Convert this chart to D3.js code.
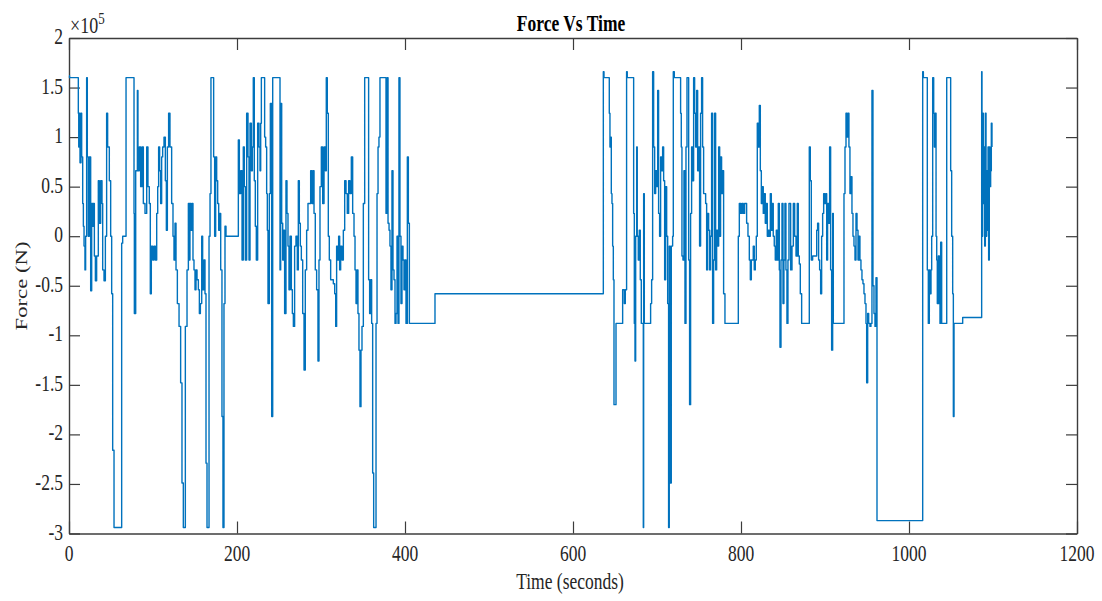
<!DOCTYPE html>
<html>
<head>
<meta charset="utf-8">
<script src="https://cdn.jsdelivr.net/npm/d3@7"></script>
<style>
  body { margin: 0; background: #fff; }
  svg { display: block; }
</style>
</head>
<body>
<svg id="chart" width="1102" height="601"></svg>
<script>
// Axis ticks
const xTicks = [0, 200, 400, 600, 800, 1000, 1200];
const xTickLabels = ["0", "200", "400", "600", "800", "1000", "1200"];
const yTicks = [-3, -2.5, -2, -1.5, -1, -0.5, 0, 0.5, 1, 1.5, 2];
const yTickLabels = ["-3", "-2.5", "-2", "-1.5", "-1", "-0.5", "0", "0.5", "1", "1.5", "2"];

// Force samples: [time (s), force (x10^5 N)], held until the next sample
const burstA = [
  [0,1.62],[0.6,1.6],[11.1,1.24],[11.6,0.9],[12.3,1.24],[13.1,0.74],[14.3,1.24],[15.1,0.8],[16.3,0.33],[17.1,0.1],
  [17.9,-0.1],[19.0,-0.34],[19.8,0.0],[21.0,1.6],[21.8,0.8],[23.0,0.0],[24.2,0.8],[25.8,-0.55],[27.0,0.33],[28.2,0.1],
  [29.0,0.33],[30.2,-0.2],[31.4,-0.45],[32.9,-0.2],[34.9,0.56],[36.1,0.13],[37.7,0.56],[39.3,0.33],[40.1,-0.34],[41.7,-0.45],
  [43.3,0.0],[44.8,1.24],[46.0,0.9],[48.0,0.56],[49.6,0.0],[50.8,-0.58],[52.0,-2.16],[53.6,-2.94],[62.7,-0.07],[63.9,0.0],
  [67.9,1.6],[77.4,0.23],[77.8,-0.78],[79.4,0.66],[81.4,1.47],[82.1,0.66],[83.7,0.9],[85.3,0.5],[86.9,0.9],[88.5,0.33],
  [90.5,0.23],[92.5,0.9],[94.0,0.5],[95.6,0.33],[96.8,-0.58],[98.0,-0.1],[99.6,-0.24],[101.2,-0.1],[102.8,-0.24],[104.4,0.23],
  [105.6,0.5],[106.7,0.9],[107.9,0.66],[109.1,0.33],[110.3,0.8],[111.5,0.9],[113.1,1.0],[114.7,0.56],[115.9,0.06],[117.1,0.9],
  [118.6,1.24],[120.2,0.9],[122.2,0.33],[123.8,0.0],[125.0,-0.24],[126.2,0.13],[127.4,-0.34],[129.0,-0.68],[131.0,-0.91],[132.9,-1.48],
  [134.5,-2.49],[136.1,-2.94],[138.5,-0.91],[140.5,-0.34],[142.1,0.33],[143.3,-0.24],[144.0,0.33],[145.2,0.06],[146.4,0.33],[147.6,-0.24],
  [148.8,-0.34],[150.0,-0.54],[151.2,-0.34],[152.4,-0.44],[154.0,-0.54],[155.2,-0.78],[156.4,-0.68],[158.0,0.0],[159.1,-0.54],[160.7,-0.24],
  [161.9,-0.58],[163.1,-2.29],[164.3,-2.94],[166.7,0.0],[167.9,0.43],[169.0,1.6],[172.2,0.8],[173.4,0.0],[174.6,0.8],[175.8,0.56],
  [177.0,0.33],[178.2,0.06],[179.4,0.23],[180.6,-0.34],[182.1,-1.82],[183.3,-2.94],[184.5,-0.68],[185.7,0.1],[186.9,0.0],[201.6,0.97],
  [202.8,0.43],[204.4,0.66],[206.0,-0.24],[207.5,0.9],[208.7,0.5]
];
const burstB = [
  [209.9,-0.24],[211.5,1.24],[213.1,0.8],[214.3,-0.24],[215.5,1.14],[217.1,0.66],[218.3,0.9],[219.4,1.6],[220.6,0.56],[221.8,0.1],
  [223.0,-0.24],[224.6,1.14],[226.2,0.9],[227.4,0.66],[228.2,1.14],[229.0,1.6],[232.9,1.0],[234.1,0.9],[235.3,0.43],[236.1,0.06],
  [236.9,-0.68],[238.5,0.43],[239.7,1.34],[241.3,-1.82],[242.5,1.6],[251.2,-0.34],[252.0,1.34],[253.2,0.13],[254.4,-0.24],[255.6,0.06],
  [256.7,-0.78],[258.3,0.56],[259.5,0.23],[260.7,-0.1],[261.9,-0.54],[263.1,0.0],[264.7,-0.54],[265.9,-0.78],[267.1,-0.91],[268.6,-0.1],
  [270.2,0.0],[271.8,-0.34],[273.0,0.56],[274.2,0.13],[275.4,-0.1],[276.6,-0.24],[278.2,-0.78],[279.8,-1.35],[281.3,-0.34],[282.9,0.06],
  [284.5,0.33],[287.7,0.66],[289.3,0.33],[290.5,0.66],[291.7,0.23],[293.2,-0.34],[294.8,-0.54],[296.4,-1.26],[297.6,-0.24],[298.8,0.5],
  [300.4,0.9],[302.0,0.33],[303.6,0.9],[305.2,0.66],[306.3,1.6],[307.5,1.24],[308.7,0.0],[309.9,-0.24],[311.5,-0.44],[314.7,-0.48],
  [316.3,-0.58],[317.5,-0.91],[318.6,-0.1],[319.8,-0.24],[321.0,0.0],[322.2,-0.34],[323.4,-0.1],[325.0,-0.24],[326.6,0.06],[328.2,0.56],
  [329.8,0.43],[331.3,0.23],[332.9,0.56],[334.5,0.43],[336.1,0.8],[337.7,0.23],[339.3,0.0],[340.5,-0.34],[341.7,-0.68],[342.9,-0.34],
  [344.0,-0.78],[345.2,-1.15],[346.4,-1.72],[347.6,-1.15],[348.8,-0.91],[350.4,0.33],[352.0,1.6],[356.7,-0.44],[357.9,-0.78],[359.1,-0.44],
  [360.3,-0.88],[361.5,-2.39],[362.7,-2.94],[365.5,-0.88],[366.7,0.43],[367.9,0.9],[369.0,1.0],[370.2,1.6],[377.4,0.23],[378.6,1.6],
  [379.8,0.13],[381.0,0.06],[382.1,-0.1],[383.3,-0.54],[384.5,0.66],[385.7,-0.34],[386.9,-0.44],[388.1,-0.88],[389.3,-0.78],[390.5,0.0],
  [391.7,-0.88],[392.8,1.6],[394.0,0.0],[395.2,-0.68],[396.4,-0.1],[397.6,-0.24],[398.8,-0.54],[400.0,-0.24],[401.2,-0.88],[402.8,0.8],
  [404.0,0.13],[405.2,-0.88]
];
const holdPhase = [
  [435.7,-0.58]
];
const burstC = [
  [636.1,1.66],[636.9,1.6],[643.2,1.24],[644.0,0.9],[644.8,1.0],[645.6,0.43],[646.4,0.33],[647.2,-0.1],[648.0,-0.44],[648.8,-1.70],
  [651.2,-0.88],[659.1,-0.54],[661.1,-0.68],[662.3,-0.54],[663.8,1.66],[664.6,1.6],[672.2,0.23],[673.0,-0.88],[673.8,-1.26],[674.6,0.0],
  [675.8,0.9],[676.5,0.0],[677.7,-0.24],[678.9,0.06],[680.1,-0.44],[681.3,-0.88],[683.7,-2.94],[684.1,0.43],[684.9,-0.88],[692.4,-0.68],
  [693.6,-0.44],[694.8,1.66],[696.0,0.9],[697.2,0.43],[698.4,0.66],[699.6,0.5],[700.8,1.47],[701.9,0.23],[703.1,0.0],[704.3,0.8],
  [705.5,0.66],[706.7,0.9],[707.9,0.56],[709.1,-0.44],[710.3,0.5],[711.5,0.0],[712.7,-0.68],[713.8,-2.94],[714.6,-0.1],[715.8,-2.49],
  [717.0,-0.1],[718.6,0.0],[719.4,1.66],[720.6,1.6],[728.1,1.24],[728.9,0.9],[729.7,-0.2],[730.9,-0.24],[732.1,0.66],[733.3,-0.88],
  [734.5,0.9],[735.7,1.6],[737.7,-0.24],[738.8,-1.70],[740.0,0.23],[741.2,0.9],[742.4,0.56],[743.6,1.6],[744.8,1.24],[746.0,0.9],
  [747.2,1.47],[748.4,0.66],[749.6,0.9],[750.7,-0.1],[751.9,1.24],[753.1,1.6],[754.3,0.9],[755.5,0.43],[757.9,0.33],[759.1,-0.34],
  [760.3,0.23],[761.5,0.06],[762.7,-0.34],[763.8,0.0],[765.0,1.24],[766.2,-0.88],[767.4,-0.24],[768.6,1.24],[769.8,-0.34],[771.0,0.06],
  [772.2,-0.1],[773.4,0.9],[774.6,0.0],[775.7,0.8],[776.9,0.43],[778.1,0.66],[779.3,-0.58]
];
const burstD = [
  [780.9,-0.88],[796.8,0.0],[798.0,0.33],[799.6,0.23],[801.1,0.33],[802.7,0.23],[804.3,0.33],[806.7,0.13],[808.3,0.0],[809.9,-0.24],
  [811.1,-0.44],[812.3,-0.24],[814.6,-0.1],[815.8,-0.34],[817.0,-0.24],[818.2,0.0],[819.4,1.14],[820.6,0.9],[821.8,1.32],[823.0,0.66],
  [824.2,0.33],[825.3,0.5],[826.5,0.23],[827.7,0.43],[828.9,0.13],[830.1,0.33],[831.3,0.0],[832.5,0.06],[833.7,0.0],[834.9,0.43],
  [836.1,0.06],[837.3,0.33],[838.4,0.0],[839.6,-0.1],[840.8,-0.24],[842.0,0.06],[843.2,-0.24],[844.4,0.33],[845.6,-0.34],[846.4,-1.12],
  [847.6,-0.24],[848.8,0.33],[850.0,-0.68],[851.1,-0.24],[852.3,0.33],[853.5,-0.34],[854.7,-0.88],[855.9,-0.24],[857.1,0.33],[859.1,-0.34],
  [860.7,-0.1],[862.3,0.33],[863.9,0.0],[865.5,-0.2],[867.0,0.33],[868.2,-0.2],[869.4,-0.28],[870.6,-0.58],[872.2,-0.88],[881.3,0.9],
  [882.5,0.56],[883.7,-0.24],[885.3,-0.2],[888.5,-0.2],[890.1,0.06],[891.2,0.13],[892.4,-0.24],[893.6,-0.34],[894.8,-0.58],[896.0,0.0],
  [897.2,0.23],[898.4,0.43],[899.6,0.33],[900.8,0.43],[902.0,-0.24],[903.1,0.33],[904.3,0.13],[905.5,0.9],[906.7,-0.34],[907.9,-1.15],
  [909.1,0.23],[909.9,-0.88],[922.6,0.43],[923.8,0.9],[925.0,1.24],[926.2,1.0],[927.4,1.24],[928.5,0.9],[929.7,0.43],[930.9,0.6],
  [932.1,0.23],[933.3,0.0],[934.5,-0.1],[935.7,-0.24],[936.9,0.23],[938.1,0.06],[939.3,-0.24],[940.4,0.0],[941.6,-0.24],[942.8,-0.34],
  [944.0,-0.44],[945.2,-0.48],[946.4,-0.58],[947.6,-0.68],[948.8,-0.88],[949.6,-1.48],[950.8,-0.78],[952.0,-0.88],[953.5,-0.91],[954.7,-0.88],
  [955.9,1.47],[957.1,-0.5],[958.3,-0.78],[959.5,-0.91],[960.7,-0.42]
];
const burstE = [
  [961.9,-2.87],[1016.3,1.66],[1017.1,1.6],[1021.8,-0.34],[1023.0,-0.88],[1024.2,-0.34],[1025.0,-0.58],[1026.2,-0.34],[1027.0,0.0],[1028.2,1.6],
  [1029.4,1.24],[1030.2,0.9],[1031.0,1.24],[1032.2,0.0],[1033.0,-0.24],[1033.7,-0.68],[1034.9,-0.2],[1036.1,-0.68],[1036.9,-0.88],[1037.7,-0.06],
  [1038.9,-0.88],[1044.9,1.6],[1049.6,0.66],[1050.8,0.0],[1052.0,-0.58],[1052.8,-1.82],[1053.6,-0.88],[1063.9,-0.82],[1086.5,1.66],[1086.9,0.0],
  [1087.7,1.24],[1088.5,0.33],[1089.3,0.9],[1090.1,-0.1],[1090.9,1.24],[1091.7,0.0],[1092.5,0.66],[1093.3,0.06],[1094.1,0.9],[1094.8,-0.24],
  [1095.6,0.9],[1096.4,0.5],[1097.2,0.66],[1098.0,1.14],[1098.8,0.9]
];

const series = [].concat(burstA, burstB, holdPhase, burstC, burstD, burstE);

// Layout
const plot = { left: 69, right: 1077, top: 38, bottom: 533.5 };
const FONT = "'Liberation Serif', 'Times New Roman', serif";
const FS = 17.5;      // glyph size
const SY = 1.3;       // vertical stretch of lettering
const INK = "#262626";
const AXIS = "#3c3c3c";
const LINE = "#0072BD";

const svg = d3.select("#chart");

const x = d3.scaleLinear().domain([0, 1200]).range([plot.left, plot.right]);
const y = d3.scaleLinear().domain([-3, 2]).range([plot.bottom, plot.top]);

function styleAxis(g) {
  g.selectAll(".domain").attr("stroke", AXIS).attr("stroke-width", 1.4);
  g.selectAll(".tick line").attr("stroke", AXIS).attr("stroke-width", 1.2);
  g.selectAll(".tick text").remove();
}

// Box with inward ticks on all four sides
svg.append("g").attr("transform", `translate(0,${plot.bottom})`)
  .call(d3.axisBottom(x).tickValues(xTicks).tickSizeInner(-12).tickSizeOuter(0).tickFormat(""))
  .call(styleAxis);
svg.append("g").attr("transform", `translate(0,${plot.top})`)
  .call(d3.axisTop(x).tickValues(xTicks).tickSizeInner(-12).tickSizeOuter(0).tickFormat(""))
  .call(styleAxis);
svg.append("g").attr("transform", `translate(${plot.left},0)`)
  .call(d3.axisLeft(y).tickValues(yTicks).tickSizeInner(-11).tickSizeOuter(0).tickFormat(""))
  .call(styleAxis);
svg.append("g").attr("transform", `translate(${plot.right},0)`)
  .call(d3.axisRight(y).tickValues(yTicks).tickSizeInner(-11).tickSizeOuter(0).tickFormat(""))
  .call(styleAxis);

// Force trace
const line = d3.line()
  .x(d => x(d[0]))
  .y(d => y(d[1]))
  .curve(d3.curveStepAfter);

svg.append("path")
  .datum(series)
  .attr("fill", "none")
  .attr("stroke", LINE)
  .attr("stroke-width", 1.4)
  .attr("stroke-linejoin", "round")
  .attr("d", line);

// Lettering helper: text stretched vertically about its own anchor point
function label(px, py, txt, opts = {}) {
  const t = svg.append("text")
    .attr("transform", `translate(${px},${py}) scale(1,${SY})` + (opts.rotate ? ` rotate(${opts.rotate})` : ""))
    .attr("font-family", FONT)
    .attr("font-size", opts.size || FS)
    .attr("font-weight", opts.weight || "normal")
    .attr("fill", opts.fill || INK)
    .attr("text-anchor", opts.anchor || "middle")
    .text(txt);
  return t;
}

// Tick labels
xTicks.forEach((v, i) => label(x(v), 561, xTickLabels[i]));
yTicks.forEach((v, i) => label(63, y(v) + 6, yTickLabels[i], { anchor: "end" }));

// Exponent marker
const expo = label(70, 33, "\u00d710", { anchor: "start", size: 18 });
expo.append("tspan").attr("font-size", 13).attr("dy", -7).text("5");

// Titles
label(571, 31, "Force Vs Time", { weight: "bold", fill: "#000" });
label(570, 589, "Time (seconds)");
label(27, 286, "Force (N)", { rotate: -90 });
</script>
</body>
</html>
